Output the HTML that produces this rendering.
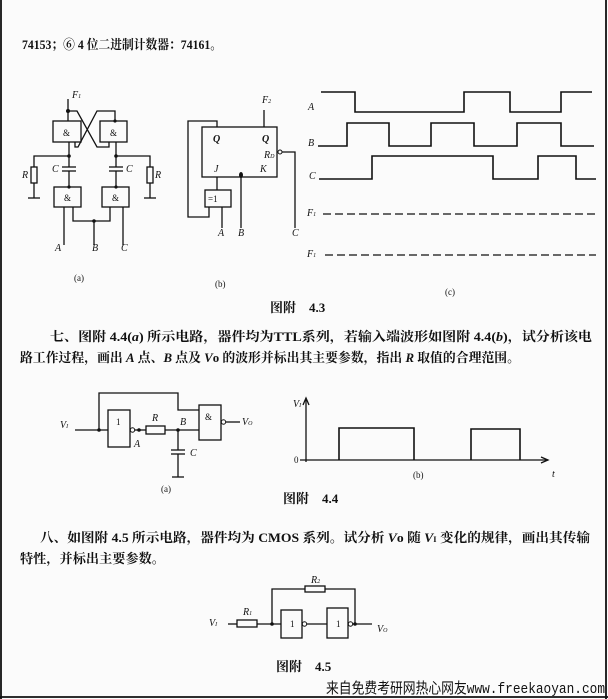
<!DOCTYPE html>
<html><head><meta charset="utf-8"><style>
html,body{margin:0;padding:0;background:#fbfbfb;}
svg{display:block;}
text{font-family:"Liberation Serif","Noto Serif CJK SC",serif;fill:#111;}
.t{font-size:13px;font-weight:bold;}
.i{font-style:italic;font-size:10px;}
.s{font-size:9px;}
</style></head><body>
<svg width="608" height="699" viewBox="0 0 608 699" xmlns="http://www.w3.org/2000/svg">
<rect x="0" y="0" width="608" height="699" fill="#fbfbfb"/>
<g stroke="#111" stroke-width="1.8" fill="none">
<line x1="1" y1="0" x2="1" y2="699"/>
<line x1="606" y1="0" x2="606" y2="699"/>
<line x1="0" y1="697" x2="608" y2="697"/>
</g>
<text class="t" x="22" y="49" textLength="200" lengthAdjust="spacingAndGlyphs">74153；⑥ 4 位二进制计数器：74161。</text>

<!-- Fig a -->
<g stroke="#111" stroke-width="1.3" fill="none">
<rect x="53" y="121" width="28" height="21"/>
<rect x="100" y="121" width="27" height="21"/>
<line x1="68" y1="99" x2="68" y2="121"/>
<path d="M68 111 H77 L97 147 H109 V142"/>
<path d="M115 121 V111 H97 L78 147 H75 V142"/>
<line x1="69" y1="142" x2="69" y2="167"/>
<line x1="62" y1="167" x2="76" y2="167"/><line x1="62" y1="171" x2="76" y2="171"/>
<line x1="69" y1="171" x2="69" y2="187"/>
<line x1="116" y1="142" x2="116" y2="167"/>
<line x1="109" y1="167" x2="123" y2="167"/><line x1="109" y1="171" x2="123" y2="171"/>
<line x1="116" y1="171" x2="116" y2="187"/>
<path d="M69 156 H34 V167"/><rect x="31" y="167" width="6" height="16"/><line x1="34" y1="183" x2="34" y2="198"/><line x1="28" y1="198" x2="40" y2="198"/>
<path d="M116 156 H150 V167"/><rect x="147" y="167" width="6" height="16"/><line x1="150" y1="183" x2="150" y2="198"/><line x1="144" y1="198" x2="156" y2="198"/>
<rect x="54" y="187" width="27" height="20"/>
<rect x="102" y="187" width="27" height="20"/>
<line x1="64" y1="207" x2="64" y2="245"/>
<path d="M73 207 V221 H110 V207"/>
<line x1="94" y1="221" x2="94" y2="245"/>
<line x1="123" y1="207" x2="123" y2="245"/>
</g>
<g fill="#111"><circle cx="68" cy="111" r="2"/><circle cx="115" cy="121" r="1.6"/><circle cx="69" cy="156" r="1.8"/><circle cx="116" cy="156" r="1.8"/><circle cx="69" cy="187" r="1.6"/><circle cx="116" cy="187" r="1.6"/><circle cx="94" cy="221" r="1.8"/></g>
<text class="i" x="72" y="98">F<tspan font-size="6">1</tspan></text>
<text class="s" x="63" y="136">&amp;</text><text class="s" x="110" y="136">&amp;</text>
<text class="s" x="64" y="201">&amp;</text><text class="s" x="112" y="201">&amp;</text>
<text class="i" x="52" y="172">C</text><text class="i" x="126" y="172">C</text>
<text class="i" x="22" y="178">R</text><text class="i" x="155" y="178">R</text>
<text class="i" x="55" y="251">A</text><text class="i" x="92" y="251">B</text><text class="i" x="121" y="251">C</text>
<text class="s" x="74" y="281">(a)</text>

<!-- Fig b -->
<g stroke="#111" stroke-width="1.3" fill="none">
<rect x="202" y="127" width="75" height="50"/>
<line x1="264" y1="110" x2="264" y2="127"/>
<path d="M217 127 V121 H188 V217 H209 V207"/>
<rect x="205" y="190" width="26" height="17"/>
<line x1="217" y1="177" x2="217" y2="190"/>
<line x1="222" y1="207" x2="222" y2="228"/>
<line x1="241" y1="177" x2="241" y2="228"/>
<path d="M282 152 H295 V228"/>
</g>
<circle cx="280" cy="152" r="2" fill="#fbfbfb" stroke="#111"/>
<ellipse cx="241" cy="175" rx="2" ry="3" fill="#111"/>
<text class="i" x="262" y="103">F<tspan font-size="6">2</tspan></text>
<text class="i" x="213" y="142" font-weight="bold">Q</text><text class="i" x="262" y="142" font-weight="bold">Q</text>
<text class="i" x="264" y="158">R<tspan font-size="6">D</tspan></text>
<text class="i" x="214" y="172">J</text><text class="i" x="260" y="172">K</text>
<text class="s" x="208" y="202">=1</text>
<text class="i" x="218" y="236">A</text><text class="i" x="238" y="236">B</text><text class="i" x="292" y="236">C</text>
<text class="s" x="215" y="287">(b)</text>

<!-- Fig c -->
<g stroke="#111" stroke-width="1.6" fill="none">
<path d="M321 92 H355 V112 H464 V92 H510 V112 H561 V92 H592"/>
<path d="M318 146 H347 V123 H389 V146 H431 V123 H474 V146 H517 V123 H561 V146 H594"/>
<path d="M319 179 H372 V156 H493 V179 H538 V156 H576 V179 H596"/>
<line x1="323" y1="214" x2="596" y2="214" stroke-dasharray="8,4" stroke-width="1.2"/>
<line x1="325" y1="255" x2="596" y2="255" stroke-dasharray="8,4" stroke-width="1.2"/>
</g>
<text class="i" x="308" y="110">A</text><text class="i" x="308" y="146">B</text><text class="i" x="309" y="179">C</text>
<text class="i" x="307" y="216">F<tspan font-size="6">1</tspan></text><text class="i" x="307" y="257">F<tspan font-size="6">1</tspan></text>
<text class="s" x="445" y="295">(c)</text>
<text class="t" x="270" y="312" font-size="10">图附　4.3</text>

<text class="t" x="50" y="341" textLength="542" lengthAdjust="spacingAndGlyphs">七、图附 4.4(<tspan font-style="italic">a</tspan>) 所示电路，器件均为TTL系列，若输入端波形如图附 4.4(<tspan font-style="italic">b</tspan>)，试分析该电</text>
<text class="t" x="20" y="362" textLength="500" lengthAdjust="spacingAndGlyphs">路工作过程，画出 <tspan font-style="italic">A</tspan> 点、<tspan font-style="italic">B</tspan> 点及 <tspan font-style="italic">V</tspan>o 的波形并标出其主要参数，指出 <tspan font-style="italic">R</tspan> 取值的合理范围。</text>

<!-- Fig 4.4 a -->
<g stroke="#111" stroke-width="1.3" fill="none">
<line x1="75" y1="430" x2="108" y2="430"/>
<rect x="108" y="410" width="22" height="37"/>
<line x1="135" y1="430" x2="146" y2="430"/>
<rect x="146" y="426" width="19" height="8"/>
<line x1="165" y1="430" x2="199" y2="430"/>
<path d="M99 430 V393 H178 V410 H199"/>
<rect x="199" y="405" width="22" height="35"/>
<line x1="226" y1="422" x2="240" y2="422"/>
<line x1="178" y1="430" x2="178" y2="450"/>
<line x1="171" y1="450" x2="185" y2="450"/><line x1="171" y1="454" x2="185" y2="454"/>
<line x1="178" y1="454" x2="178" y2="477"/><line x1="172" y1="477" x2="184" y2="477"/>
</g>
<circle cx="132.5" cy="430" r="2.2" fill="#fbfbfb" stroke="#111"/>
<circle cx="223.5" cy="422" r="2.2" fill="#fbfbfb" stroke="#111"/>
<g fill="#111"><circle cx="99" cy="430" r="1.8"/><circle cx="139" cy="430" r="1.8"/><circle cx="178" cy="430" r="1.8"/></g>
<text class="i" x="60" y="428">V<tspan font-size="6">I</tspan></text>
<text class="s" x="116" y="425">1</text><text class="s" x="205" y="420">&amp;</text>
<text class="i" x="152" y="421">R</text><text class="i" x="180" y="425">B</text><text class="i" x="134" y="447">A</text>
<text class="i" x="190" y="456">C</text>
<text class="i" x="242" y="425">V<tspan font-size="6">O</tspan></text>
<text class="s" x="161" y="492">(a)</text>

<!-- Fig 4.4 b -->
<g stroke="#111" stroke-width="1.3" fill="none">
<line x1="306" y1="462" x2="306" y2="400"/>
<path d="M303 405 L306 398 L309 405"/>
<line x1="300" y1="460" x2="548" y2="460"/>
<path d="M541 457 L548 460 L541 463"/>
<path d="M339 460 V428 H414 V460" stroke-width="1.6"/>
<path d="M471 460 V429 H520 V460" stroke-width="1.6"/>
</g>
<text class="i" x="293" y="407">V<tspan font-size="6">I</tspan></text>
<text class="s" x="294" y="463">0</text>
<text class="s" x="413" y="478">(b)</text>
<text class="i" x="552" y="477">t</text>
<text class="t" x="283" y="503" font-size="10">图附　4.4</text>

<text class="t" x="40" y="542" textLength="550" lengthAdjust="spacingAndGlyphs">八、如图附 4.5 所示电路，器件均为 CMOS 系列。试分析 <tspan font-style="italic">V</tspan>o 随 <tspan font-style="italic">V</tspan><tspan font-size="8">I</tspan> 变化的规律，画出其传输</text>
<text class="t" x="20" y="563" textLength="145" lengthAdjust="spacingAndGlyphs">特性，并标出主要参数。</text>

<!-- Fig 4.5 -->
<g stroke="#111" stroke-width="1.3" fill="none">
<line x1="228" y1="624" x2="237" y2="624"/>
<rect x="237" y="620" width="20" height="7"/>
<line x1="257" y1="624" x2="281" y2="624"/>
<path d="M272 624 V589 H305 M325 589 H355 V624"/>
<rect x="305" y="586" width="20" height="6"/>
<rect x="281" y="610" width="21" height="28"/>
<line x1="307" y1="624" x2="327" y2="624"/>
<rect x="327" y="608" width="21" height="30"/>
<line x1="353" y1="624" x2="372" y2="624"/>
</g>
<circle cx="304.5" cy="624" r="2.2" fill="#fbfbfb" stroke="#111"/>
<circle cx="350.5" cy="624" r="2.2" fill="#fbfbfb" stroke="#111"/>
<g fill="#111"><circle cx="272" cy="624" r="1.8"/><circle cx="355" cy="624" r="1.8"/></g>
<text class="i" x="209" y="626">V<tspan font-size="6">I</tspan></text>
<text class="i" x="243" y="615">R<tspan font-size="6">1</tspan></text>
<text class="i" x="311" y="583">R<tspan font-size="6">2</tspan></text>
<text class="s" x="290" y="627">1</text><text class="s" x="336" y="627">1</text>
<text class="i" x="377" y="632">V<tspan font-size="6">O</tspan></text>
<text class="t" x="276" y="671" font-size="10">图附　4.5</text>

<text x="326" y="693" font-size="15" textLength="279" lengthAdjust="spacingAndGlyphs" style="font-family:'Liberation Mono','WenQuanYi Zen Hei',monospace">来自免费考研网热心网友www.freekaoyan.com</text>
</svg>
</body></html>
